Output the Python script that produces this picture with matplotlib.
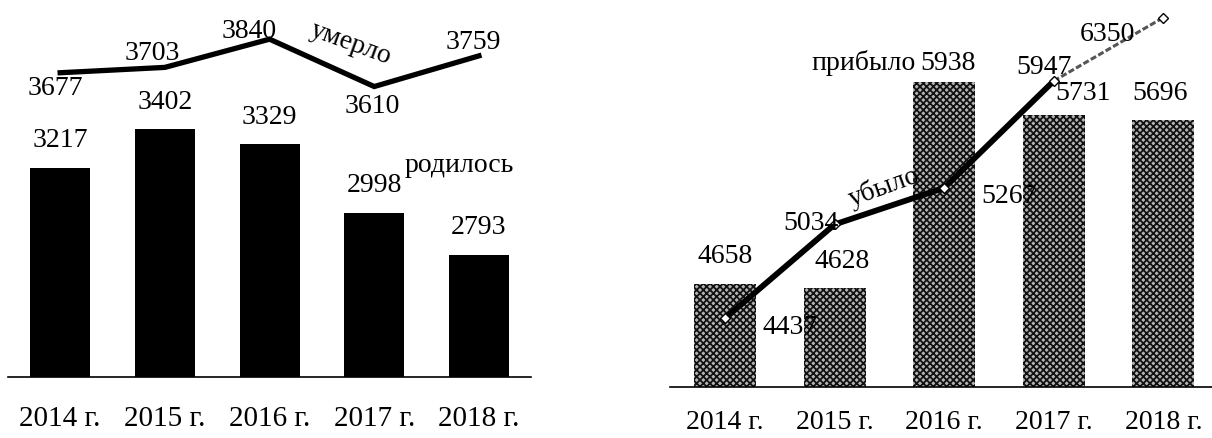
import matplotlib
matplotlib.use("Agg")
import matplotlib.pyplot as plt
import numpy as np

plt.rcParams['font.family'] = ['Liberation Serif', 'DejaVu Serif']

# ---- data ----
years = ["2014 г.", "2015 г.", "2016 г.", "2017 г.", "2018 г."]
born = [3217, 3402, 3329, 2998, 2793]        # родилось
died = [3677, 3703, 3840, 3610, 3759]        # умерло
arrived = [4658, 4628, 5938, 5731, 5696]     # прибыло
left_ = [4437, 5034, 5267, 5947, 6350]       # убыло

W, H = 1212, 439
fig = plt.figure(figsize=(W / 100, H / 100), dpi=100)
FS = 20

# ---- left panel ----
axL = fig.add_axes([7.8 / W, (H - 378) / H, 523.5 / W, 378 / H])
x = np.arange(len(years))
axL.bar(x, born, width=0.573, color='black', zorder=2)
axL.plot(x, died, color='black', lw=3.8, zorder=3, solid_joinstyle='miter')
axL.set_xlim(-0.5, 4.5)
axL.set_ylim(2200, 4035)

bar_off_L = [(0, 28)] * 5
line_off_L = [(-5, -15), (-13, 15), (-20, 9), (-2, -19), (-6, 14)]
for i, v in enumerate(born):
    axL.annotate(str(v), (x[i], v), xytext=bar_off_L[i], textcoords='offset pixels',
                 ha='center', va='center', fontsize=FS, annotation_clip=False)
for i, v in enumerate(died):
    axL.annotate(str(v), (x[i], v), xytext=line_off_L[i], textcoords='offset pixels',
                 ha='center', va='center', fontsize=FS, annotation_clip=False)

fig.text(351 / W, 1 - 44 / H, "умерло", fontsize=FS, rotation=-20,
         ha='center', va='center', rotation_mode='anchor')
fig.text(459 / W, 1 - 166 / H, "родилось", fontsize=FS, ha='center', va='center')

# ---- right panel ----
axR = fig.add_axes([670.2 / W, (H - 388) / H, 548 / W, 388 / H])
plt.rcParams['hatch.linewidth'] = 1.3
axR.bar(x, arrived, width=0.566, facecolor='#b4b4b4', edgecolor='#111111',
        hatch='xxxxx', linewidth=0, zorder=2)
axR.plot(x[:4], left_[:4], color='black', lw=4.2, zorder=3)
axR.plot(x[3:], left_[3:], color='#555555', lw=2.2, ls=(0, (2, 0.8)), zorder=3)
axR.plot(x, left_, ls='none', marker='D', ms=5, mfc='white', mec='black',
         mew=1, zorder=4)
axR.set_xlim(-0.5, 4.5)
axR.set_ylim(4000, 6468)

bar_off_R = [(0, 28), (8, 28), (4, 20), (29, 22), (-3, 28)]
line_off_R = [(65, -8), (-24, 2), (65, -8), (-10, 14), (-56, -16)]
for i, v in enumerate(arrived):
    axR.annotate(str(v), (x[i], v), xytext=bar_off_R[i], textcoords='offset pixels',
                 ha='center', va='center', fontsize=FS, annotation_clip=False, zorder=5)
for i, v in enumerate(left_):
    axR.annotate(str(v), (x[i], v), xytext=line_off_R[i], textcoords='offset pixels',
                 ha='center', va='center', fontsize=FS, annotation_clip=False, zorder=5)

fig.text(864 / W, 1 - 63 / H, "прибыло", fontsize=FS, ha='center', va='center')
fig.text(884 / W, 1 - 187 / H, "убыло", fontsize=FS, rotation=20,
         ha='center', va='center', rotation_mode='anchor')

for ax, pad, fs in ((axL, 20, 21), (axR, 16, 20)):
    for s in ('top', 'right', 'left'):
        ax.spines[s].set_visible(False)
    ax.spines['bottom'].set_linewidth(1.2)
    ax.spines['bottom'].set_color('black')
    ax.set_yticks([])
    ax.set_xticks(x)
    ax.set_xticklabels(years, fontsize=fs)
    ax.tick_params(axis='x', length=0, pad=pad)
    ax.patch.set_alpha(0)

fig.savefig("out.png", dpi=100)
